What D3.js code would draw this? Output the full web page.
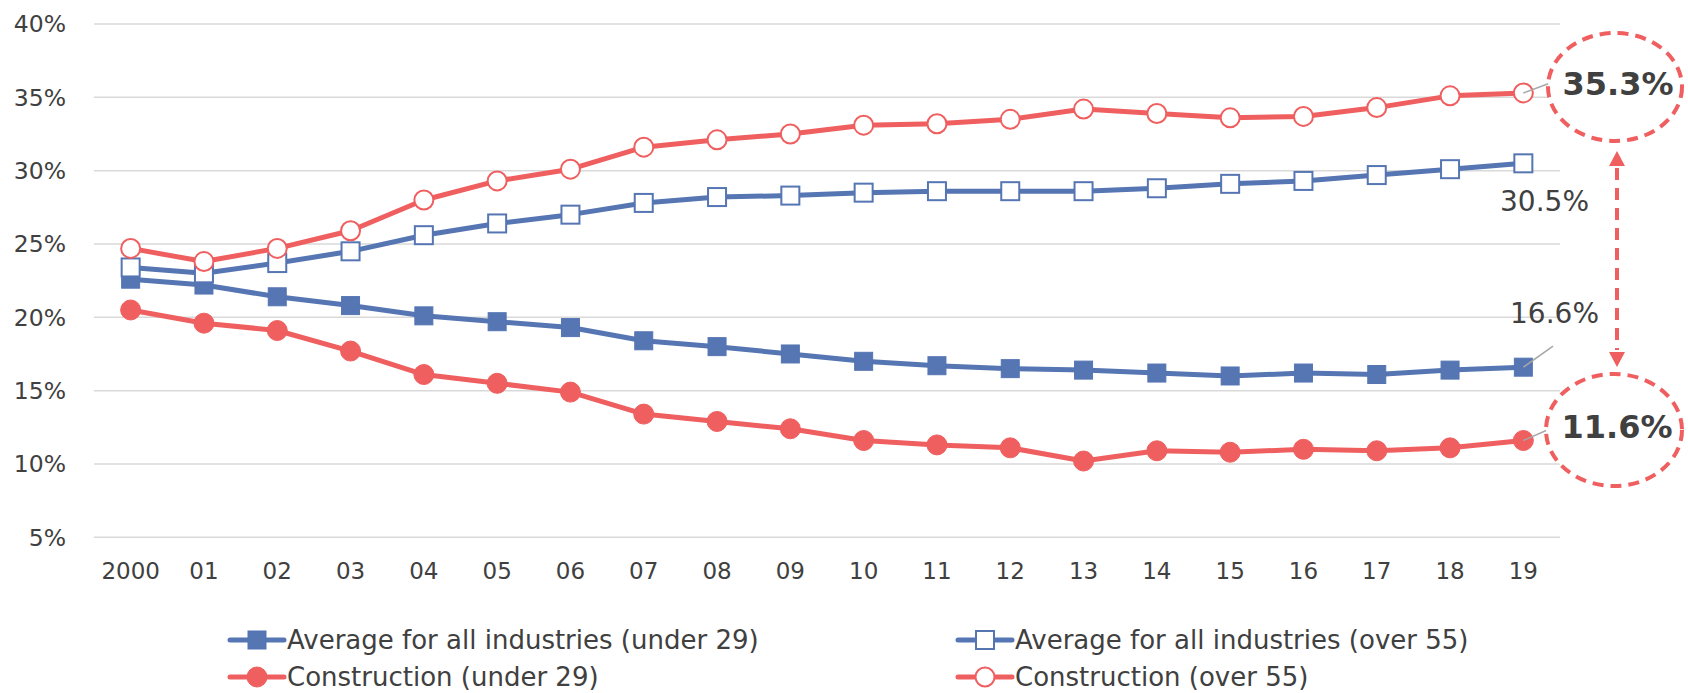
<!DOCTYPE html>
<html>
<head>
<meta charset="utf-8">
<script src="https://cdn.jsdelivr.net/npm/d3@7"></script>
<style>
  body { margin: 0; background: #fff; }
  text { font-family: "DejaVu Sans", Verdana, sans-serif; }
</style>
</head>
<body>
<svg id="chart" width="1688" height="693"></svg>
<script>
// data (percent)
const years = ["2000", "01", "02", "03", "04", "05", "06", "07", "08", "09",
               "10", "11", "12", "13", "14", "15", "16", "17", "18", "19"];
const allUnder29 = [22.6, 22.2, 21.4, 20.8, 20.1, 19.7, 19.3, 18.4, 18.0, 17.5,
                    17.0, 16.7, 16.5, 16.4, 16.2, 16.0, 16.2, 16.1, 16.4, 16.6];
const allOver55 = [23.4, 23.0, 23.7, 24.5, 25.6, 26.4, 27.0, 27.8, 28.2, 28.3,
                   28.5, 28.6, 28.6, 28.6, 28.8, 29.1, 29.3, 29.7, 30.1, 30.5];
const conUnder29 = [20.5, 19.6, 19.1, 17.7, 16.1, 15.5, 14.9, 13.4, 12.9, 12.4,
                    11.6, 11.3, 11.1, 10.2, 10.9, 10.8, 11.0, 10.9, 11.1, 11.6];
const conOver55 = [24.7, 23.8, 24.7, 25.9, 28.0, 29.3, 30.1, 31.6, 32.1, 32.5,
                   33.1, 33.2, 33.5, 34.2, 33.9, 33.6, 33.7, 34.3, 35.1, 35.3];
const yTicks = [5, 10, 15, 20, 25, 30, 35, 40];

const blue = "#5575b3";
const red = "#ef5f5f";

const series = [
  { name: "Average for all industries (under 29)", values: allUnder29, color: blue, shape: "square", filled: true },
  { name: "Average for all industries (over 55)", values: allOver55, color: blue, shape: "square", filled: false },
  { name: "Construction (under 29)", values: conUnder29, color: red, shape: "circle", filled: true },
  { name: "Construction (over 55)", values: conOver55, color: red, shape: "circle", filled: false }
];

const svg = d3.select("#chart");

const x = d3.scaleBand().domain(years).range([94, 1560]);
const y = d3.scaleLinear().domain([5, 40]).range([537.3, 24]);
const cx = d => x(d) + x.bandwidth() / 2;

// gridlines + y labels
svg.append("g").selectAll("line")
  .data(yTicks)
  .enter().append("line")
  .attr("x1", 94).attr("x2", 1560)
  .attr("y1", d => y(d)).attr("y2", d => y(d))
  .attr("stroke", "#d9d9d9").attr("stroke-width", 1.5);

svg.append("g").selectAll("text")
  .data(yTicks)
  .enter().append("text")
  .attr("x", 66).attr("y", d => y(d))
  .attr("dy", "0.36em")
  .attr("text-anchor", "end")
  .attr("font-size", 23.5)
  .attr("fill", "#404040")
  .text(d => d + "%");

// x labels
svg.append("g").selectAll("text")
  .data(years)
  .enter().append("text")
  .attr("x", d => cx(d)).attr("y", 571)
  .attr("dy", "0.36em")
  .attr("text-anchor", "middle")
  .attr("font-size", 23)
  .attr("fill", "#404040")
  .text(d => d);

function drawMarker(g, s, px, py) {
  if (s.shape === "square") {
    g.append("rect")
      .attr("x", px - 9).attr("y", py - 9)
      .attr("width", 18).attr("height", 18)
      .attr("fill", s.filled ? s.color : "#fff")
      .attr("stroke", s.color).attr("stroke-width", s.filled ? 1 : 2);
  } else {
    g.append("circle")
      .attr("cx", px).attr("cy", py)
      .attr("r", s.filled ? 10 : 9.5)
      .attr("fill", s.filled ? s.color : "#fff")
      .attr("stroke", s.color).attr("stroke-width", s.filled ? 1 : 2);
  }
}

const line = d3.line()
  .x((d, i) => cx(years[i]))
  .y(d => y(d));

series.forEach(s => {
  const g = svg.append("g");
  g.append("path")
    .attr("d", line(s.values))
    .attr("fill", "none")
    .attr("stroke", s.color)
    .attr("stroke-width", 5)
    .attr("stroke-linejoin", "round");
  s.values.forEach((v, i) => drawMarker(g, s, cx(years[i]), y(v)));
});

// leader lines for end labels
const lastX = cx(years[years.length - 1]);
const leaders = [
  [conOver55[19], 1553, y(conOver55[19]) - 11],
  [allUnder29[19], 1553, y(allUnder29[19]) - 21],
  [conUnder29[19], 1553, y(conUnder29[19]) - 13]
];
svg.append("g").selectAll("line")
  .data(leaders)
  .enter().append("line")
  .attr("x1", lastX).attr("y1", d => y(d[0]))
  .attr("x2", d => d[1]).attr("y2", d => d[2])
  .attr("stroke", "#a6a6a6").attr("stroke-width", 1.5);

// plain end labels
svg.append("text")
  .attr("x", 1589).attr("y", 201).attr("dy", "0.36em")
  .attr("text-anchor", "end").attr("font-size", 28).attr("fill", "#404040")
  .text(allOver55[19].toFixed(1) + "%");
svg.append("text")
  .attr("x", 1599).attr("y", 313).attr("dy", "0.36em")
  .attr("text-anchor", "end").attr("font-size", 28).attr("fill", "#404040")
  .text(allUnder29[19].toFixed(1) + "%");

// highlighted labels in dashed ellipses
const highlights = [
  { v: conOver55[19], cx: 1615, cy: 87, rx: 67, ry: 54 },
  { v: conUnder29[19], cx: 1614, cy: 430, rx: 68, ry: 56 }
];
highlights.forEach(h => {
  svg.append("ellipse")
    .attr("cx", h.cx).attr("cy", h.cy).attr("rx", h.rx).attr("ry", h.ry)
    .attr("fill", "#fff").attr("stroke", red)
    .attr("stroke-width", 4).attr("stroke-dasharray", "11 7");
  svg.append("text")
    .attr("x", h.cx + 3).attr("y", h.cy - 4).attr("dy", "0.36em")
    .attr("text-anchor", "middle").attr("font-size", 32)
    .attr("font-weight", "bold").attr("fill", "#404040")
    .text(h.v.toFixed(1) + "%");
});

// dashed double arrow between the two ellipses
const ax = 1617;
svg.append("line")
  .attr("x1", ax).attr("x2", ax).attr("y1", 168).attr("y2", 350)
  .attr("stroke", red).attr("stroke-width", 4).attr("stroke-dasharray", "12 8");
svg.append("path")
  .attr("d", `M${ax},151 L${ax - 8},166 L${ax + 8},166 Z`)
  .attr("fill", red);
svg.append("path")
  .attr("d", `M${ax},367 L${ax - 8},352 L${ax + 8},352 Z`)
  .attr("fill", red);

// legend
const legendPos = [
  { x: 230, y: 640 }, { x: 958, y: 640 },
  { x: 230, y: 677 }, { x: 958, y: 677 }
];
series.forEach((s, i) => {
  const p = legendPos[i];
  const g = svg.append("g");
  g.append("line")
    .attr("x1", p.x).attr("x2", p.x + 54).attr("y1", p.y).attr("y2", p.y)
    .attr("stroke", s.color).attr("stroke-width", 5).attr("stroke-linecap", "round");
  drawMarker(g, s, p.x + 27, p.y);
  g.append("text")
    .attr("x", p.x + 57).attr("y", p.y).attr("dy", "0.36em")
    .attr("font-size", 26).attr("fill", "#404040")
    .text(s.name);
});
</script>
</body>
</html>
